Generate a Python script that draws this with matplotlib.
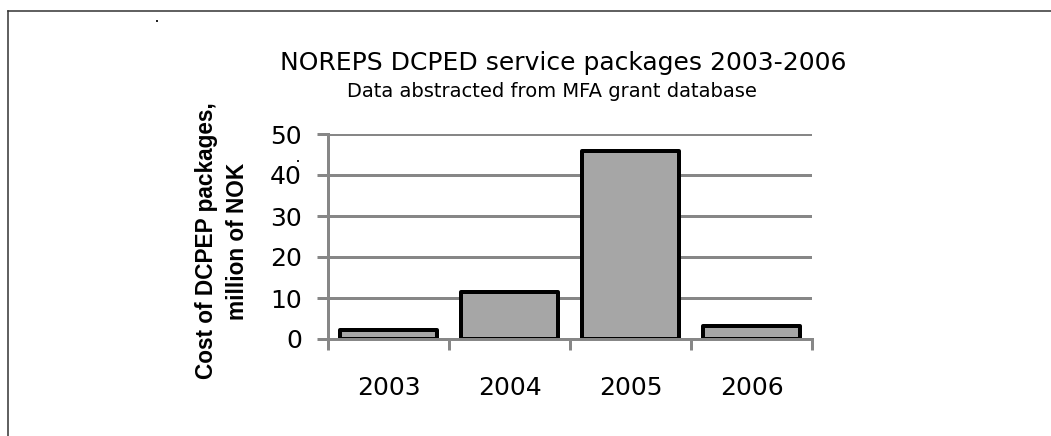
import matplotlib
matplotlib.use("Agg")
import matplotlib.pyplot as plt
from matplotlib.lines import Line2D
from matplotlib.patches import Rectangle

# ---- data ----
years = ["2003", "2004", "2005", "2006"]
costs = [2.2, 11.4, 45.8, 3.2]
y_ticks = [0, 10, 20, 30, 40, 50]

title = "NOREPS DCPED service packages 2003-2006"
subtitle = "Data abstracted from MFA grant database"
ylabel = "Cost of DCPEP packages,\nmillion of NOK"

W, H = 1051, 436
fig = plt.figure(figsize=(W / 100, H / 100), dpi=100)
fig.patch.set_facecolor("white")

grid_c = "#878787"
px = 0.72  # points per pixel at 100 dpi

left, right, top, bottom = 328, 812, 134, 339
ax = fig.add_axes([left / W, 1 - bottom / H, (right - left) / W, (bottom - top) / H])

x = list(range(len(years)))
ax.bar(x, costs, width=0.8, color="#A6A6A6", edgecolor="black",
       linewidth=4 * px, joinstyle="round", zorder=2)

ax.set_xlim(-0.5, len(years) - 0.5)
ax.set_ylim(0, 50)

ax.set_axisbelow(True)
ax.yaxis.grid(True, color=grid_c, linewidth=3 * px)
ax.xaxis.grid(False)

for s in ["top", "right"]:
    ax.spines[s].set_visible(False)
for s in ["left", "bottom"]:
    ax.spines[s].set_color(grid_c)
    ax.spines[s].set_linewidth(3 * px)
    ax.spines[s].set_zorder(3)

# y ticks
ax.set_yticks(y_ticks)
ax.set_yticklabels([str(v) for v in y_ticks])
ax.tick_params(axis="y", which="major", length=11 * px, width=3 * px,
               color=grid_c, labelsize=18, labelcolor="black", pad=15 * px)

# x ticks: boundaries (major, no labels), centers (minor, labels)
ax.set_xticks([i - 0.5 for i in range(len(years) + 1)])
ax.set_xticklabels([])
ax.set_xticks(x, minor=True)
ax.set_xticklabels(years, minor=True)
ax.tick_params(axis="x", which="major", length=11 * px, width=3 * px, color=grid_c)
ax.tick_params(axis="x", which="minor", length=0, labelsize=18,
               labelcolor="black", pad=37 * px)

# titles
fig.text(563 / W, 1 - 70 / H, title, ha="center", va="baseline",
         fontsize=18, color="black")
fig.text(552 / W, 1 - 97 / H, subtitle, ha="center", va="baseline",
         fontsize=14, color="black")

# y label
fig.text(222 / W, 1 - 241 / H, ylabel, rotation=90, ha="center", va="center",
         multialignment="center", fontsize=16.3, fontweight="bold",
         family="Liberation Sans", linespacing=1.4, color="black")

# outer frame (top and left edges)
frame_c = "#333333"
fig.add_artist(Line2D([8 / W, 1.0], [1 - 11.5 / H, 1 - 11.5 / H],
                      transform=fig.transFigure, color=frame_c, linewidth=1.1))
fig.add_artist(Line2D([8 / W, 8 / W], [1 - 11.5 / H, 0.0],
                      transform=fig.transFigure, color=frame_c, linewidth=1.1))

# small stray marks present in the reference image
fig.add_artist(Rectangle((156 / W, 1 - 22 / H), 2 / W, 1.5 / H,
                         transform=fig.transFigure, color="#222222", lw=0))
fig.add_artist(Rectangle((297 / W, 1 - 162 / H), 1.5 / W, 1.5 / H,
                         transform=fig.transFigure, color="#222222", lw=0))

fig.savefig("out.png", dpi=100, facecolor="white")
